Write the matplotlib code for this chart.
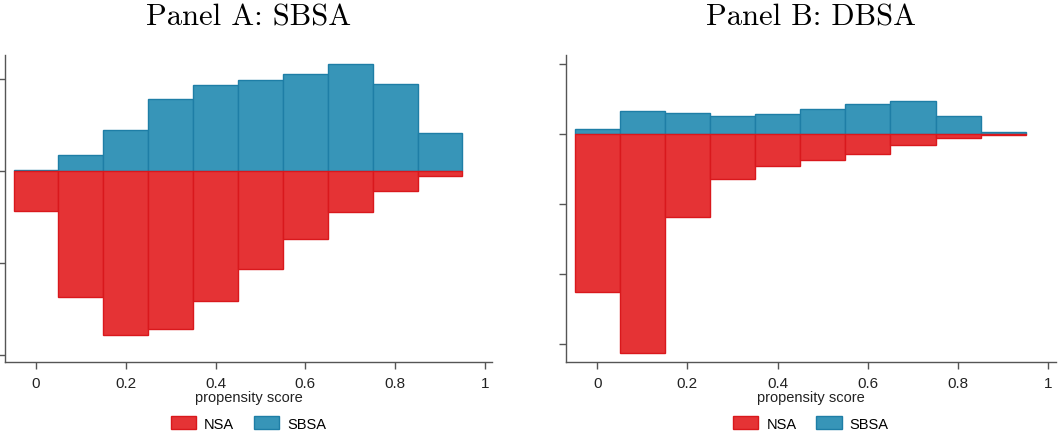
import numpy as np
import matplotlib
matplotlib.use('agg')
import matplotlib.pyplot as plt
from matplotlib.patches import Patch

plt.rcParams['font.family'] = ['Liberation Sans', 'DejaVu Sans']

# bin centers of the propensity score histogram
bin_centers = [0.0, 0.1, 0.2, 0.3, 0.4, 0.5, 0.6, 0.7, 0.8, 0.9]

# Panel A: SBSA (upper) vs NSA (lower, mirrored)
sbsa_a = [0.01, 0.17, 0.45, 0.78, 0.94, 0.99, 1.06, 1.16, 0.95, 0.41]
nsa_a = [0.44, 1.37, 1.79, 1.72, 1.42, 1.07, 0.74, 0.45, 0.22, 0.06]

# Panel B: DBSA (upper) vs NSA (lower, mirrored)
dbsa_b = [0.08, 0.33, 0.30, 0.26, 0.29, 0.36, 0.43, 0.47, 0.26, 0.03]
nsa_b = [2.26, 3.13, 1.19, 0.64, 0.46, 0.37, 0.29, 0.16, 0.06, 0.01]

titles = ['Panel A: SBSA', 'Panel B: DBSA']
xticks = [0, 0.2, 0.4, 0.6, 0.8, 1]
xtick_labels = ['0', '0.2', '0.4', '0.6', '0.8', '1']

red = '#e53335'
red_edge = '#d9181c'
blue = '#3795b8'
blue_edge = '#1e7ea6'
spine_col = '#555555'

fig = plt.figure(figsize=(10.62, 4.39), dpi=100)
ax_a = fig.add_axes([0.0047, 0.173, 0.4586, 0.699])
ax_b = fig.add_axes([0.533, 0.173, 0.461, 0.699])

panels = [
    (ax_a, sbsa_a, nsa_a, (-2.08, 1.26), [-2, -1, 0, 1]),
    (ax_b, dbsa_b, nsa_b, (-3.26, 1.13), [-3, -2, -1, 0, 1]),
]

for i, (ax, upper, lower, ylim, yticks) in enumerate(panels):
    ax.bar(bin_centers, upper, width=0.1, color=blue, edgecolor=blue_edge,
           linewidth=1.0, zorder=2)
    ax.bar(bin_centers, -np.array(lower), width=0.1, color=red,
           edgecolor=red_edge, linewidth=1.0, zorder=2)

    ax.set_xlim(-0.069, 1.016)
    ax.set_ylim(*ylim)
    ax.set_xticks(xticks)
    ax.set_xticklabels(xtick_labels, fontsize=11, color='#222222')
    ax.set_yticks(yticks)
    ax.set_yticklabels([])

    for s in ['top', 'right']:
        ax.spines[s].set_visible(False)
    for s in ['left', 'bottom']:
        ax.spines[s].set_color(spine_col)
        ax.spines[s].set_linewidth(1.0)
    ax.tick_params(axis='both', color=spine_col, length=5, width=1.0,
                   direction='out', pad=5)

    ax.set_xlabel('propensity score', fontsize=10.5, color='#222222', labelpad=0)
    # computer modern look, as in the LaTeX-made original
    ax.set_title(titles[i], fontsize=22, pad=22, fontfamily='cmr10')

    handles = [Patch(facecolor=red, edgecolor=red_edge, label='NSA'),
               Patch(facecolor=blue, edgecolor=blue_edge, label='SBSA')]
    ax.legend(handles=handles, loc='center', bbox_to_anchor=(0.5, -0.2),
              ncol=2, frameon=False, fontsize=10.5, handlelength=1.75,
              handleheight=1.0, columnspacing=1.35, handletextpad=0.55,
              borderpad=0.1)

fig.savefig('out.png', dpi=100)
